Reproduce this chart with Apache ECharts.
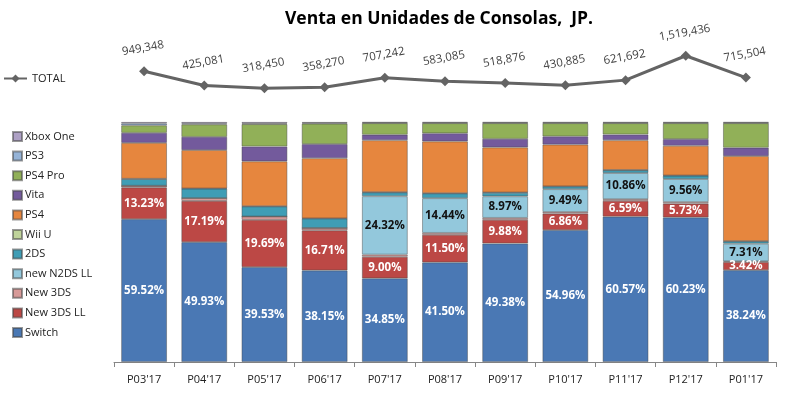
<!DOCTYPE html>
<html><head><meta charset="utf-8">
<script src="https://cdn.jsdelivr.net/npm/echarts@6/dist/echarts.min.js"></script>
<style>html,body{margin:0;padding:0;background:#fff}#c{width:785px;height:397px}</style>
</head><body><div id="c"></div>
<script>
var categories = ["P03'17","P04'17","P05'17","P06'17","P07'17","P08'17","P09'17","P10'17","P11'17","P12'17","P01'17"];
var totalUnits = [949348,425081,318450,358270,707242,583085,518876,430885,621692,1519436,715504];
var switchPct = [59.52,49.93,39.53,38.15,34.85,41.50,49.38,54.96,60.57,60.23,38.24];
var new3dsLLPct = [13.23,17.19,19.69,16.71,9.00,11.50,9.88,6.86,6.59,5.73,3.42];
var new3dsPct = [0.7,1.2,1.4,1.0,0.9,0.8,0.8,0.7,0.7,0.7,0.3];
var newN2dsLLPct = [0,0,0,0,24.32,14.44,8.97,9.49,10.86,9.56,7.31];
var twoDsPct = [2.8,3.9,4.2,3.9,1.6,2.0,1.5,1.1,1.2,1.4,1.0];
var wiiUPct = [0.1,0.1,0.1,0.1,0.1,0.1,0.1,0.1,0.1,0.1,0.1];
var ps4Pct = [14.95,15.98,18.68,25.04,21.63,21.56,18.77,17.39,12.38,12.38,35.43];
var vitaPct = [4.2,5.5,6.2,5.9,2.3,3.4,3.6,3.4,2.4,2.8,3.5];
var ps4ProPct = [3.1,5.2,9.3,8.5,4.8,4.2,6.5,5.5,4.7,6.6,10.2];
var ps3Pct = [0.8,0.4,0.3,0.3,0.2,0.2,0.2,0.2,0.2,0.2,0.2];
var xboxOnePct = [0.6,0.6,0.6,0.4,0.3,0.3,0.3,0.3,0.3,0.3,0.3];

var FONT = "'Open Sans', sans-serif";
var stackDefs = [
  {name:'Switch', data:switchPct, color:'#4A78B4', label:'#ffffff'},
  {name:'New 3DS LL', data:new3dsLLPct, color:'#BC4845', label:'#ffffff'},
  {name:'New 3DS', data:new3dsPct, color:'#D79A98'},
  {name:'new N2DS LL', data:newN2dsLLPct, color:'#93C8DC', label:'#111111'},
  {name:'2DS', data:twoDsPct, color:'#3F9DB5'},
  {name:'Wii U', data:wiiUPct, color:'#BFD39A'},
  {name:'PS4', data:ps4Pct, color:'#E6863E'},
  {name:'Vita', data:vitaPct, color:'#735A9C'},
  {name:'PS4 Pro', data:ps4ProPct, color:'#91B058'},
  {name:'PS3', data:ps3Pct, color:'#95B3D7'},
  {name:'Xbox One', data:xboxOnePct, color:'#ADA0C4'}
];

var series = stackDefs.map(function(d){
  var s = {
    name:d.name, type:'bar', stack:'all', xAxisIndex:0, yAxisIndex:0,
    data:d.data, barCategoryGap:'24%',
    itemStyle:{color:d.color, borderColor:'rgba(70,70,70,0.55)', borderWidth:0.8},
    emphasis:{disabled:true}
  };
  if (d.label) {
    s.label = {show:true, position:'inside', color:d.label, fontFamily:FONT, fontSize:11.5, fontWeight:'bold',
      formatter:function(p){ return p.value > 0 ? p.value.toFixed(2) + '%' : ''; }};
  }
  return s;
});
series.push({
  name:'TOTAL', type:'line', xAxisIndex:1, yAxisIndex:1, data:totalUnits,
  symbol:'diamond', symbolSize:10, lineStyle:{color:'#646464', width:3},
  itemStyle:{color:'#646464'},
  label:{show:true, position:'top', distance:12, rotate:10, color:'#404040', fontFamily:FONT, fontSize:11.5,
    formatter:function(p){ return p.value.toLocaleString('en-US'); }},
  emphasis:{disabled:true}
});

var legendOrder = stackDefs.map(function(d){return d.name;}).reverse();

var chart = echarts.init(document.getElementById('c'), null, {renderer:'canvas'});
chart.setOption({
  animation:false,
  title:{text:'Venta en Unidades de Consolas,  JP.', left:434, textAlign:'center', top:5,
    textStyle:{fontFamily:FONT, fontSize:17.5, fontWeight:'bold', color:'#000'}},
  legend:[
    {data:['TOTAL'], left:3, top:73, padding:0, itemWidth:23, itemHeight:10, itemGap:4,
      textStyle:{fontFamily:FONT, fontSize:11, color:'#222'}},
    {data:legendOrder, orient:'vertical', left:12, top:131, padding:0, itemWidth:9, itemHeight:9, itemGap:8.6,
      icon:'rect', textStyle:{fontFamily:FONT, fontSize:11, color:'#222', padding:[0,0,0,-2]}}
  ],
  grid:[
    {left:114, right:9, top:122, bottom:35},
    {left:114, right:9, top:40, height:57}
  ],
  xAxis:[
    {type:'category', gridIndex:0, data:categories, boundaryGap:true,
      axisLine:{lineStyle:{color:'#868686', width:1}},
      axisTick:{show:true, length:5, lineStyle:{color:'#868686'}},
      axisLabel:{fontFamily:FONT, fontSize:11, color:'#222', margin:12}},
    {type:'category', gridIndex:1, data:categories, boundaryGap:true, show:false}
  ],
  yAxis:[
    {type:'value', gridIndex:0, min:0, max:100, show:false},
    {type:'value', gridIndex:1, min:0, max:2100000, show:false}
  ],
  series:series
});
</script></body></html>
